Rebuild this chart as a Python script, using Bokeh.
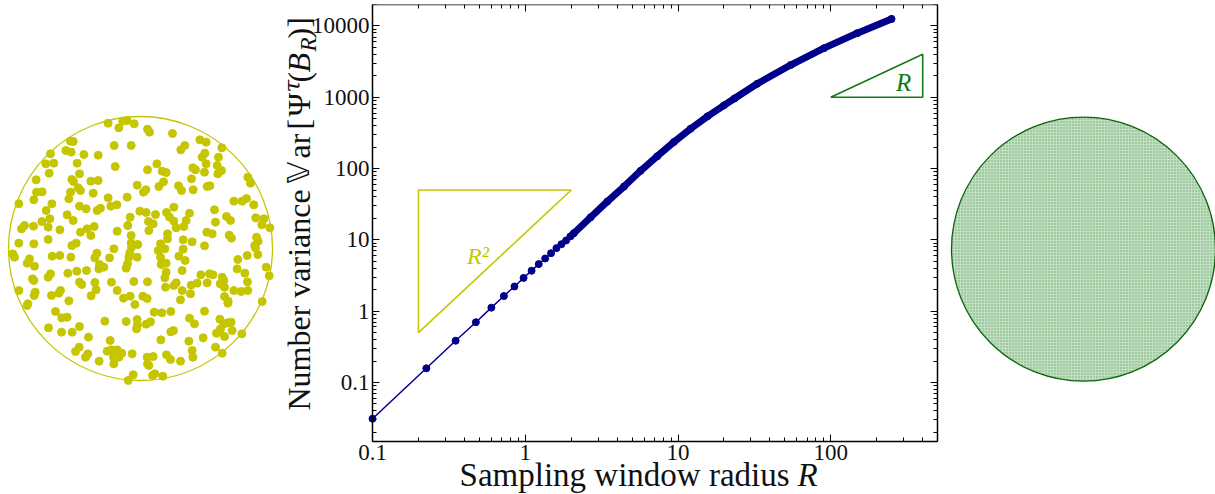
import math
from bokeh.plotting import figure
from bokeh.layouts import row
from bokeh.models import Range1d, FixedTicker, CustomJSTickFormatter, LogAxis
from bokeh.embed import file_html
from bokeh.resources import INLINE
from bokeh.core.properties import value

# ---------------- data ----------------
R_vals = [0.1, 0.225, 0.35, 0.475, 0.6, 0.725, 0.85, 0.975, 1.1, 1.225, 1.35, 1.475, 1.6, 1.725, 1.85,
          1.975, 2.08, 2.68, 3.44, 4.43, 5.69, 7.32, 9.4, 12.1, 15.6, 20, 23.4, 33, 54.6, 90.3, 149, 250]
var_vals = [0.031, 0.158, 0.385, 0.70, 1.12, 1.63, 2.22, 2.93, 3.69, 4.57, 5.48, 6.5, 7.66, 8.7, 9.8,
            11.2, 12.4, 20.8, 34.4, 56, 93, 149, 236, 362, 540, 770, 960, 1545, 2830, 4880, 7930, 12550]

tri_r2_x = [0.2, 0.2, 2.0, 0.2]
tri_r2_y = [0.5, 50, 50, 0.5]
tri_r1_x = [100, 400, 400, 100]
tri_r1_y = [1000, 1000, 4000, 1000]

x_major = [0.1, 1, 10, 100]
y_major = [0.1, 1, 10, 100, 1000, 10000]
x_box = (0.1, 500)
y_box = (0.01472, 20000)

# sample point pattern (left disc)
dot_x = [323,355,367,380,401,441,447,516,210,218,341,392,598,617,553,541,664,150,196,212,250,293,613,605,654,
         136,160,230,344,469,441,485,497,577,585,617,612,650,663,652,146,237,107,214,219,271,293,
         489,475,410,436,429,534,543,573,578,620,628,742,750,108,125,100,210,205,240,233,278,
         323,380,700,725,738,55,154,137,237,257,290,300,331,349,520,760,
         418,437,465,498,507,520,567,642,200,218,72,63,99,124,148,143,
         389,382,444,458,557,550,645,678,690,766,790,784,808,178,240,260,281,271,
         350,392,445,501,501,527,619,635,686,693,768,773,55,100,143,214,227,
         392,393,412,388,480,493,548,575,612,763,765,37,42,87,80,102,
         155,178,211,289,283,297,327,340,385,410,473,480,548,535,554,712,740,772,
         150,143,96,100,55,202,229,258,310,295,377,381,
         482,497,497,545,601,627,637,665,670,710,733,741,797,806,
         237,244,283,333,400,441,493,495,527,520,590,572,545,570,540,
         620,659,672,700,722,742,104,101,82,80,153,180,175,
         272,287,350,369,389,403,440,427,672,682,683,785,205,165,184,200,
         313,377,410,411,408,437,450,461,484,511,567,582,612,
         658,670,682,692,695,660,656,648,672,724,144,183,215,237,264,
         329,481,511,519,565,608,236,225,255,262,296,320,332,350,364,339,355,395,
         440,458,445,441,498,510,540,575,577,645,665,340,383,398,456,463,487]
dot_y = [38,52,32,30,40,56,65,69,92,93,105,105,88,95,105,118,112,130,120,125,132,134,128,140,140,
         160,158,158,168,160,178,182,186,172,178,160,185,165,180,190,188,190,208,207,213,212,210,
         214,228,224,238,245,226,240,205,238,228,226,200,218,245,244,268,245,265,240,232,248,
         262,260,272,272,264,280,280,300,287,295,300,293,287,283,290,283,
         302,306,312,306,320,332,308,298,313,330,345,355,347,333,325,350,
         320,345,333,340,330,348,335,318,330,322,325,343,352,358,365,355,348,375,
         362,375,360,370,385,352,365,370,374,383,380,392,398,400,387,405,398,
         398,410,402,427,400,415,388,394,406,405,412,430,440,445,458,467,
         437,435,440,428,442,462,442,415,440,440,420,440,416,437,450,447,435,432,
         490,500,505,510,540,488,482,480,470,475,473,460,
         462,458,485,480,493,490,493,500,510,475,488,514,470,496,
         515,522,516,515,513,514,502,530,517,525,518,524,540,550,568,
         517,520,530,540,543,540,545,555,580,585,555,540,548,
         556,538,540,563,557,582,564,557,558,578,572,573,571,603,622,620,
         632,633,627,643,655,641,634,605,607,603,623,640,602,
         626,640,637,635,660,655,663,668,678,670,652,665,665,648,680,
         690,688,664,660,692,682,710,723,740,730,752,722,718,718,728,740,740,730,
         740,738,765,760,733,747,752,720,740,710,728,760,810,793,795,790,797]
disc_center = (420, 414)
disc_radius = 396

NAVY = "#00008a"
YEL = "#c6c600"
GRN = "#127a12"
TXT = "#111111"
SERIF = "Liberation Serif"

H = 494

# ---------------- left disc ----------------
pl = figure(width=280, height=H, x_range=Range1d(0, 840), y_range=Range1d(1152, -318),
            output_backend="svg", toolbar_location=None, x_axis_location=None, y_axis_location=None,
            min_border=0, min_border_top=4, outline_line_color=None)
pl.grid.visible = False
pl.circle(x=[disc_center[0]], y=[disc_center[1]], radius=disc_radius, fill_color=None,
          line_color=YEL, line_width=1.3)
pl.scatter(dot_x, dot_y, size=8, fill_color=YEL, line_color=YEL)

# ---------------- main plot ----------------
p = figure(width=665, height=H, x_axis_type="log", y_axis_type="log",
           x_range=Range1d(0.02498, 564), y_range=Range1d(0.002685, 20000),
           output_backend="svg", toolbar_location=None,
           min_border=0, min_border_top=4, outline_line_color=None)
p.grid.visible = False

def minors(lo, hi):
    return [m * 10.0 ** e for e in range(-3, 6) for m in range(2, 10) if lo <= m * 10.0 ** e <= hi]

fmt = CustomJSTickFormatter(code="return (tick < 1) ? tick.toFixed(1) : tick.toFixed(0);")

def style_axis(ax, major, bounds, loc, labels=True):
    ax.ticker = FixedTicker(ticks=major, minor_ticks=minors(*bounds))
    ax.bounds = bounds
    ax.fixed_location = loc
    ax.major_tick_in = 7
    ax.major_tick_out = 0
    ax.minor_tick_in = 4
    ax.minor_tick_out = 0
    ax.major_tick_line_color = "black"
    ax.minor_tick_line_color = "black"
    ax.axis_line_color = "black"
    ax.axis_line_width = 1.5
    ax.formatter = fmt
    if labels:
        ax.major_label_text_font = SERIF
        ax.major_label_text_font_size = "23px"
        ax.major_label_text_color = TXT
        ax.major_label_standoff = 3
    else:
        ax.major_label_text_font_size = "1px"
        ax.major_label_text_alpha = 0
        ax.major_label_standoff = 0

style_axis(p.xaxis[0], x_major, x_box, y_box[0])
style_axis(p.yaxis[0], y_major, y_box, x_box[0])
top_ax = LogAxis()
right_ax = LogAxis()
style_axis(top_ax, x_major, x_box, y_box[1], labels=False)
style_axis(right_ax, y_major, y_box, x_box[1], labels=False)
p.add_layout(top_ax, "above")
p.add_layout(right_ax, "right")

# guide triangles
p.line(tri_r2_x, tri_r2_y, line_color=YEL, line_width=1.6)
p.line(tri_r1_x, tri_r1_y, line_color=GRN, line_width=1.6)
p.text(x=[0.49], y=[6.0], text=["R²"], text_font=value(SERIF), text_font_style="italic",
       text_font_size="24px", text_color=YEL, text_align="center", text_baseline="middle")
p.text(x=[300], y=[1600], text=["R"], text_font=value(SERIF), text_font_style="italic",
       text_font_size="25px", text_color=GRN, text_align="center", text_baseline="middle")

# data curve
p.line(R_vals, var_vals, line_color=NAVY, line_width=1.5)
dense_R = [r for r in R_vals if r >= 1.9]
dense_V = [v for r, v in zip(R_vals, var_vals) if r >= 1.9]
p.line(dense_R, dense_V, line_color=NAVY, line_width=7, line_cap="round", line_join="round")
p.scatter(R_vals, var_vals, size=7, fill_color=NAVY, line_color=NAVY)

# axis titles (composed pieces to allow math styling)
def lab(x, y, text, size="32px", style="normal", angle=0.0, font=SERIF):
    p.text(x=[x], y=[y], text=[text], angle=angle, text_font=value(font), text_font_size=size,
           text_font_style=style, text_color=TXT, text_align="left", text_baseline="alphabetic")

up = math.pi / 2
XB = 0.03277
lab(XB, 0.04044, "Number variance", angle=up)
lab(XB, 61.73, "𝕍", size="30px", angle=up, font="DejaVu Sans")
lab(XB, 138.4, "ar", angle=up)
lab(XB, 353.0, "[", angle=up)
lab(XB, 537.4, "Ψ", angle=up)
lab(0.02993, 1166, "τ", size="23px", style="italic", angle=up, font="DejaVu Serif")
lab(XB, 1611, "(", angle=up)
lab(XB, 2225, "B", style="italic", angle=up)
lab(0.0381, 4384, "R", size="23px", style="italic", angle=up)
lab(XB, 6671, ")]", angle=up)

lab(0.3715, 0.005118, "Sampling window radius", size="33px")
lab(60.6, 0.005118, "R", size="33px", style="italic")

# ---------------- right disc ----------------
pr = figure(width=270, height=H, x_range=Range1d(0, 270), y_range=Range1d(0, 490),
            output_backend="svg", toolbar_location=None, x_axis_location=None, y_axis_location=None,
            min_border=0, min_border_top=4, outline_line_color=None)
pr.grid.visible = False
pr.circle(x=[138], y=[245.3], radius=132, fill_color="#c2dec2",
          hatch_pattern="dot", hatch_color="#2f8a2f", hatch_scale=3, hatch_weight=1, hatch_alpha=0.6,
          line_color="#0b640b", line_width=1.3)

layout = row(pl, p, pr, spacing=0)
open("out.html", "w").write(file_html(layout, INLINE))
